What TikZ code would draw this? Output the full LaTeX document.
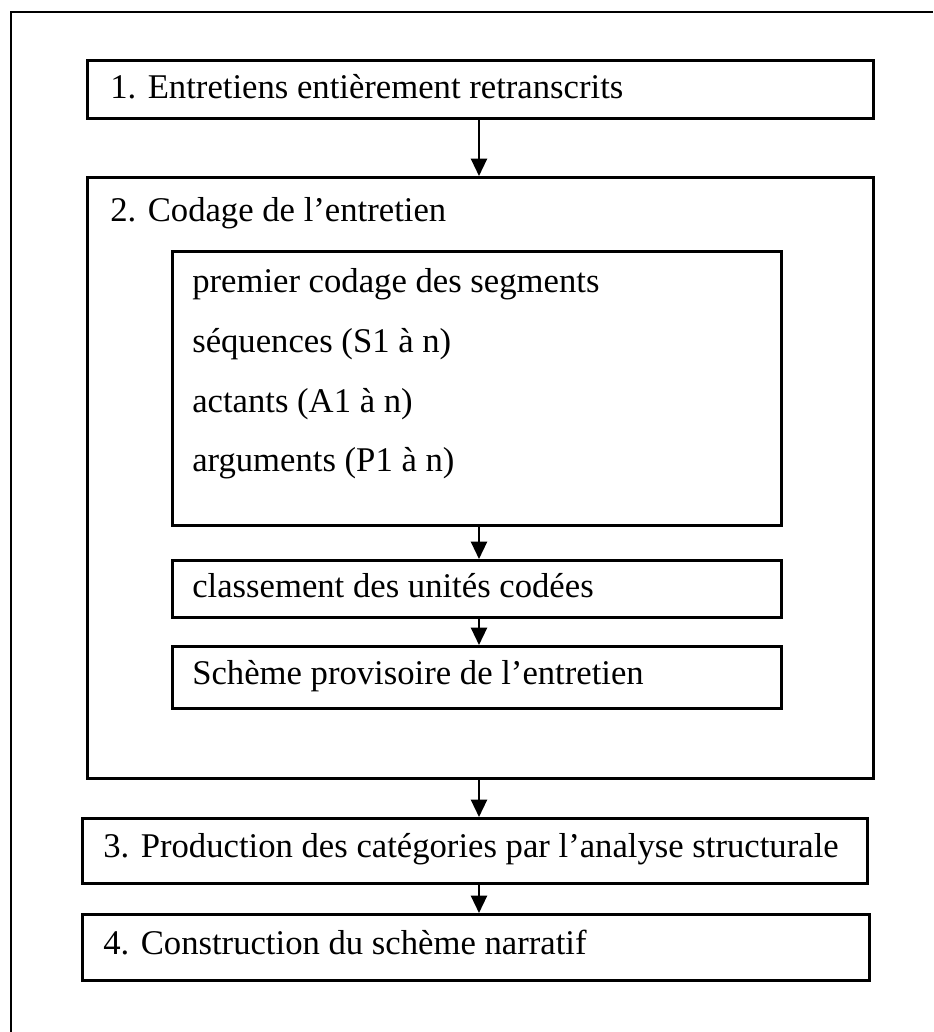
\documentclass[tikz,border=0pt]{standalone}
\usepackage{fontspec}
\setmainfont{Liberation Serif}
\usetikzlibrary{arrows.meta}

\tikzset{
    box/.style={draw, line width=2.2pt, rectangle, anchor=north west, inner sep=0pt},
    txt/.style={anchor=base west, inner sep=0pt, font=\fontsize{26}{30}\selectfont},
    arr/.style={line width=1.7pt, -{Triangle[width=12pt,length=13pt]}}
}

\begin{document}
\begin{tikzpicture}[x=0.75pt, y=-0.75pt]
        \useasboundingbox (0,0) rectangle (933,1032);
        \draw[line width=2.2pt] (11,1032) -- (11,12) -- (933,12);
        \coordinate (ax) at (479,0);
        % boxes
        \node[box, minimum width=589.5pt, minimum height=43.5pt] (B1) at (86,59) {};
        \node[box, minimum width=589.5pt, minimum height=450.75pt] (B2) at (86,176) {};
        \node[box, minimum width=456.75pt, minimum height=205.5pt] (L) at (171,250) {};
        \node[box, minimum width=456.75pt, minimum height=42.75pt] (K) at (171,559) {};
        \node[box, minimum width=456.75pt, minimum height=46.5pt] (S) at (171,645) {};
        \node[box, minimum width=588.75pt, minimum height=48.75pt] (B3) at (81,817) {};
        \node[box, minimum width=590.25pt, minimum height=49.5pt] (B4) at (81,913) {};
        % texts
        \node[txt] (t1) at (110,98) {1. Entretiens entièrement retranscrits};
        \node[txt] (t2) at (110,221) {2. Codage de l’entretien};
        \node[txt] (l1) at (192,292) {premier codage des segments};
        \node[txt] (l2) at (192,352) {séquences (S1 à n)};
        \node[txt] (l3) at (192,412) {actants (A1 à n)};
        \node[txt] (l4) at (192,471) {arguments (P1 à n)};
        \node[txt] (k) at (192,597) {classement des unités codées};
        \node[txt] (s) at (192,684) {Schème provisoire de l’entretien};
        \node[txt] (t3) at (103,857) {3. Production des catégories par l’analyse structurale};
        \node[txt] (t4) at (103,954) {4. Construction du schème narratif};
        % arrows
        \draw[arr] (B1.south -| ax) -- (B2.north -| ax);
        \draw[arr] (L.south -| ax) -- (K.north -| ax);
        \draw[arr] (K.south -| ax) -- (S.north -| ax);
        \draw[arr] (B2.south -| ax) -- (B3.north -| ax);
        \draw[arr] (B3.south -| ax) -- (B4.north -| ax);
    \end{tikzpicture}
\end{document}
